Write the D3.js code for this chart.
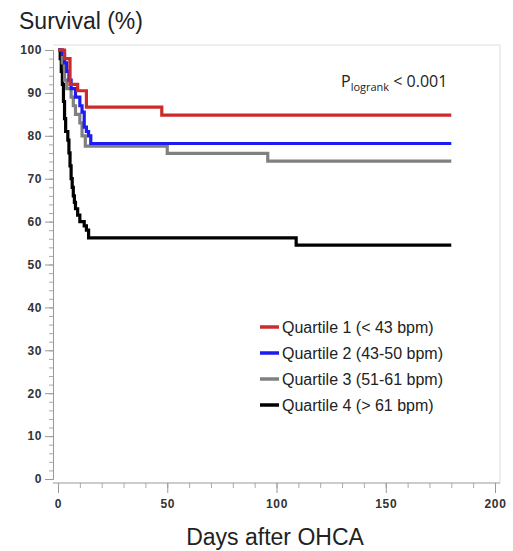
<!DOCTYPE html>
<html>
<head>
<meta charset="utf-8">
<script src="https://cdn.jsdelivr.net/npm/d3@7"></script>
<style>
  body { margin: 0; background: #fff; }
  svg { display: block; }
  .tick text { font-family: "Liberation Sans", Arial, sans-serif; font-weight: bold; fill: #333; }
</style>
</head>
<body>
<div id="chart"></div>
<script>

// Kaplan-Meier steps (days, survival %)
var q1Days = [0, 3, 5.5, 9, 13, 47.5, 180];
var q1Surv = [100, 98, 92, 90.5, 86.7, 84.8, 84.8];

var q2Days = [0, 2, 3, 4, 5, 6, 8, 10, 11, 12, 13, 14, 15, 180];
var q2Surv = [100, 99, 97, 95, 93, 91, 89, 87, 85.5, 82, 81, 80, 78.2, 78.2];

var q3Days = [0, 2, 3, 4, 6, 7, 8, 10, 11, 12.5, 50, 96, 180];
var q3Surv = [100, 97, 93, 91, 89, 87, 85, 83, 80, 77.6, 75.9, 74.1, 74.1];

var q4Days = [0, 1, 1.5, 2, 2.5, 3, 3.5, 4.5, 5, 5.5, 6, 6.5, 7, 7.5, 8, 9, 10, 12, 13, 14, 109, 180];
var q4Surv = [100, 98, 95, 92, 88, 84, 81, 79, 76, 73, 70, 68, 66, 64.5, 63, 61.5, 60, 59, 58, 56.2, 54.5, 54.5];

var seriesNames = ["Quartile 1 (< 43 bpm)", "Quartile 2 (43-50 bpm)", "Quartile 3 (51-61 bpm)", "Quartile 4 (> 61 bpm)"];
var seriesColors = ["#cc2b2b", "#1c1cf0", "#808080", "#000000"];

var xTicks = [0, 50, 100, 150, 200];
var yTicks = [0, 10, 20, 30, 40, 50, 60, 70, 80, 90, 100];

var width = 513,
    height = 551;

var svg = d3.select("#chart").append("svg")
  .attr("width", width)
  .attr("height", height);

var x = d3.scaleLinear().domain([0, 200]).range([58, 495]);
var y = d3.scaleLinear().domain([0, 100]).range([479, 50]);

var axisY = 483, axisX = 53;

// light frame round the plot
svg.append("path")
  .attr("d", "M" + axisX + ",45H500V" + axisY)
  .attr("fill", "none")
  .attr("stroke", "#dedede")
  .attr("stroke-width", 1);

// y axis: minor then major
svg.append("g")
  .attr("transform", "translate(" + axisX + ",0)")
  .call(d3.axisLeft(y).tickValues(d3.range(0, 101, 2)).tickSize(4).tickFormat(""))
  .call(function(g) { g.selectAll("line, path").attr("stroke", "#aaa"); });

var gy = svg.append("g")
  .attr("transform", "translate(" + axisX + ",0)")
  .call(d3.axisLeft(y).tickValues(yTicks).tickSize(8).tickPadding(3).tickSizeOuter(0));
gy.selectAll("line, path").attr("stroke", "#999");
gy.selectAll("text").attr("font-size", 12).attr("letter-spacing", 0.6);

// x axis
svg.append("g")
  .attr("transform", "translate(0," + axisY + ")")
  .call(d3.axisBottom(x).tickValues(d3.range(0, 201, 10)).tickSize(5).tickFormat(""))
  .call(function(g) { g.selectAll("line").attr("stroke", "#aaa"); g.select("path").remove(); });

var gx = svg.append("g")
  .attr("transform", "translate(0," + axisY + ")")
  .call(d3.axisBottom(x).tickValues(xTicks).tickSize(10).tickPadding(6).tickSizeOuter(0));
gx.selectAll("line").attr("stroke", "#999");
gx.select("path").attr("d", "M" + axisX + ",0H500").attr("stroke", "#999");
gx.selectAll("text").attr("font-size", 12).attr("letter-spacing", 0.6);

// curves
var line = d3.line()
  .x(function(d) { return x(d[0]); })
  .y(function(d) { return y(d[1]); })
  .curve(d3.curveStepAfter);

var curves = [
  d3.zip(q4Days, q4Surv),
  d3.zip(q3Days, q3Surv),
  d3.zip(q2Days, q2Surv),
  d3.zip(q1Days, q1Surv)
];
var curveColors = [seriesColors[3], seriesColors[2], seriesColors[1], seriesColors[0]];

svg.append("g").selectAll("path")
  .data(curves)
  .enter()
  .append("path")
    .attr("d", line)
    .attr("fill", "none")
    .attr("stroke", function(d, i) { return curveColors[i]; })
    .attr("stroke-width", 3.2)
    .attr("stroke-linejoin", "miter");

// titles
svg.append("text")
  .attr("x", 19)
  .attr("y", 29)
  .attr("font-family", "'Liberation Sans', Arial, sans-serif")
  .attr("font-size", 23)
  .attr("fill", "#222")
  .text("Survival (%)");

svg.append("text")
  .attr("x", 275)
  .attr("y", 545)
  .attr("text-anchor", "middle")
  .attr("font-family", "'Liberation Sans', Arial, sans-serif")
  .attr("font-size", 23)
  .attr("fill", "#222")
  .text("Days after OHCA");

var pText = svg.append("text")
  .attr("x", 341)
  .attr("y", 87)
  .attr("font-family", "'Open Sans', 'Liberation Sans', sans-serif")
  .attr("font-size", 16)
  .attr("fill", "#222");
pText.append("tspan").text("P");
pText.append("tspan").attr("font-size", 11).attr("dy", 4).text("logrank");
pText.append("tspan").attr("dy", -4).text(" < 0.001");

// legend
var legend = svg.append("g").attr("transform", "translate(260,327)");
var rows = legend.selectAll("g")
  .data(seriesNames)
  .enter()
  .append("g")
    .attr("transform", function(d, i) { return "translate(0," + (i * 26) + ")"; });

rows.append("line")
  .attr("x1", 0).attr("x2", 19)
  .attr("stroke", function(d, i) { return seriesColors[i]; })
  .attr("stroke-width", 3.5);

rows.append("text")
  .attr("x", 22)
  .attr("y", 6)
  .attr("font-family", "'Liberation Sans', Arial, sans-serif")
  .attr("font-size", 16)
  .attr("fill", "#222")
  .text(function(d) { return d; });

</script>
</body>
</html>
